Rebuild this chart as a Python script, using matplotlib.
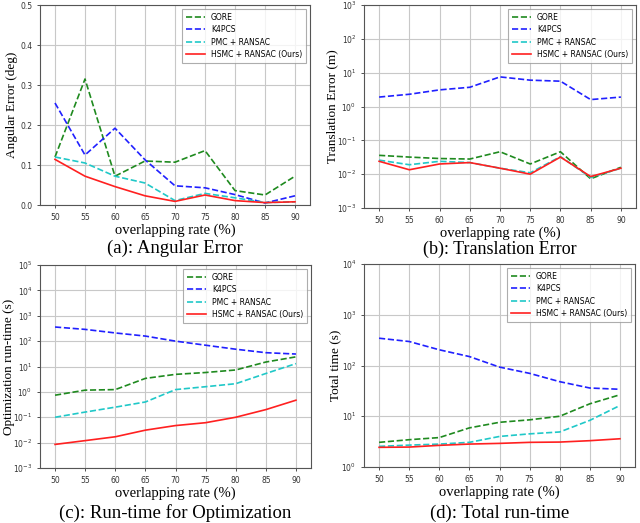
import matplotlib
matplotlib.use("Agg")
import matplotlib.pyplot as plt
from matplotlib.ticker import LogLocator, NullLocator, LogFormatterMathtext

overlap = [50, 55, 60, 65, 70, 75, 80, 85, 90]
methods = ["GORE", "K4PCS", "PMC + RANSAC", "HSMC + RANSAC (Ours)"]

# (a) angular error (deg)
ang_gore = [0.120, 0.315, 0.072, 0.110, 0.107, 0.136, 0.036, 0.025, 0.072]
ang_k4pcs = [0.255, 0.125, 0.192, 0.113, 0.048, 0.043, 0.026, 0.005, 0.023]
ang_pmc = [0.120, 0.105, 0.072, 0.055, 0.011, 0.029, 0.018, 0.006, 0.008]
ang_hsmc = [0.114, 0.072, 0.046, 0.023, 0.009, 0.025, 0.011, 0.006, 0.008]

# (b) translation error (m)
tr_gore = [0.036, 0.032, 0.029, 0.028, 0.046, 0.020, 0.046, 0.0073, 0.016]
tr_k4pcs = [1.9, 2.3, 3.1, 3.7, 7.5, 6.0, 5.6, 1.6, 1.9]
tr_pmc = [0.026, 0.019, 0.024, 0.022, 0.015, 0.011, 0.033, 0.008, 0.015]
tr_hsmc = [0.024, 0.0135, 0.020, 0.022, 0.015, 0.010, 0.032, 0.0085, 0.015]

# (c) optimization run-time (s)
opt_gore = [0.74, 1.17, 1.23, 3.4, 4.9, 5.8, 7.3, 15, 24]
opt_k4pcs = [360, 290, 210, 158, 100, 69, 48, 35, 31]
opt_pmc = [0.10, 0.16, 0.25, 0.40, 1.23, 1.6, 2.1, 5.3, 13]
opt_hsmc = [0.0085, 0.012, 0.017, 0.031, 0.047, 0.061, 0.10, 0.20, 0.47]

# (d) total run-time (s)
tot_gore = [3.06, 3.45, 3.8, 5.9, 7.6, 8.5, 10, 17.6, 26.5]
tot_k4pcs = [345, 297, 204, 150, 93, 70, 48, 36, 34]
tot_pmc = [2.55, 2.7, 2.83, 3.06, 4.0, 4.5, 4.9, 8.3, 16.3]
tot_hsmc = [2.44, 2.47, 2.67, 2.83, 2.92, 3.06, 3.1, 3.3, 3.6]

colors = ["#1f8a1f", "#2020ff", "#20c8c8", "#ff2020"]
styles = ["--", "--", "--", "-"]

panels = [
    ([ang_gore, ang_k4pcs, ang_pmc, ang_hsmc], "Angular Error (deg)", "(a): Angular Error", None),
    ([tr_gore, tr_k4pcs, tr_pmc, tr_hsmc], "Translation Error (m)", "(b): Translation Error", (1e-3, 1e3)),
    ([opt_gore, opt_k4pcs, opt_pmc, opt_hsmc], "Optimization run-time (s)", "(c): Run-time for Optimization", (1e-3, 1e5)),
    ([tot_gore, tot_k4pcs, tot_pmc, tot_hsmc], "Total time (s)", "(d): Total run-time", (1e0, 1e4)),
]

# axes rectangles in pixels (left, top, width, height)
rects_px = [
    (40, 5, 270, 200),
    (364, 5, 272, 203),
    (40, 265, 271, 203),
    (364, 264, 271, 203),
]
ylabel_x_px = [12, 332, 9, 335]
caption_y = [248, 249, 513, 513]
caption_size = [13.5, 13, 13.5, 13.5]

W, H = 640, 523
fig = plt.figure(figsize=(6.4, 5.23), dpi=100)
serif = ["Liberation Serif", "DejaVu Serif"]

for (series, ylabel, caption, ylim), (l, t, w, h), lx, cy, cs in zip(
        panels, rects_px, ylabel_x_px, caption_y, caption_size):
    ax = fig.add_axes((l / W, 1 - (t + h) / H, w / W, h / H))
    for vals, name, c, ls in zip(series, methods, colors, styles):
        ax.plot(overlap, vals, ls, color=c, lw=1.2, label=name)
    ax.set_xlim(47.5, 92.5)
    ax.set_xticks(overlap)
    if ylim is None:
        ax.set_ylim(0, 0.5)
        ax.set_yticks([0.0, 0.1, 0.2, 0.3, 0.4, 0.5])
    else:
        ax.set_yscale("log")
        ax.set_ylim(*ylim)
        ax.yaxis.set_major_locator(LogLocator(base=10, numticks=20))
        ax.yaxis.set_major_formatter(LogFormatterMathtext())
        ax.yaxis.set_minor_locator(NullLocator())
    ax.grid(True, color="#c8c8c8", lw=0.8)
    ax.tick_params(labelsize=5.5, length=2, width=0.6, colors="#333333")
    for s in ax.spines.values():
        s.set_color("#555555")
        s.set_linewidth(0.8)
    ax.set_ylabel(ylabel, fontsize=9.5, family=serif, va="center")
    ax.yaxis.set_label_coords((lx - l) / w, 0.5)
    ax.set_xlabel("overlapping rate (%)", fontsize=10.5, family=serif, labelpad=1)
    leg = ax.legend(loc="upper right", fontsize=5.5, frameon=True, fancybox=False,
                    borderpad=0.5, labelspacing=0.45, handlelength=2.5)
    leg.get_frame().set_edgecolor("#999999")
    leg.get_frame().set_linewidth(0.8)
    cx = (l + w / 2) / W
    fig.text(cx, 1 - cy / H, caption, ha="center", va="center", fontsize=cs, family=serif)

fig.savefig("out.png", dpi=100)
